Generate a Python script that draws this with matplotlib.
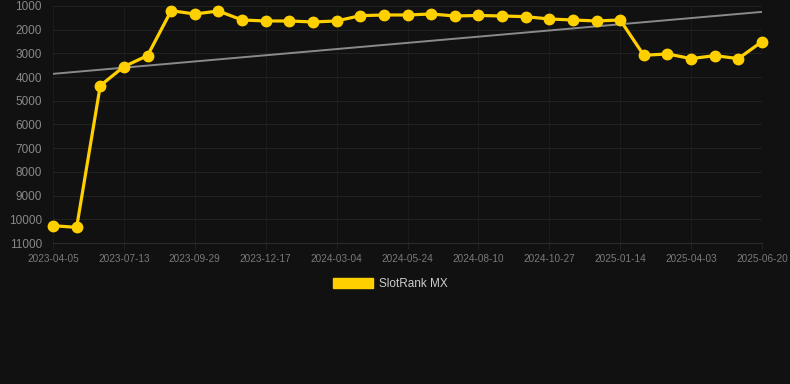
import matplotlib
matplotlib.use("Agg")
import matplotlib.pyplot as plt
from matplotlib.patches import Patch
import numpy as np

# rank values (lower rank = better, axis is inverted)
ranks = [10270, 10340, 4360, 3557, 3094, 1198, 1337, 1211, 1590, 1632,
         1632, 1674, 1632, 1408, 1379, 1379, 1337, 1421, 1400, 1421,
         1450, 1548, 1590, 1632, 1590, 3080, 3023, 3220, 3094, 3220, 2500]
tick_labels = ["2023-04-05", "2023-07-13", "2023-09-29", "2023-12-17",
               "2024-03-04", "2024-05-24", "2024-08-10", "2024-10-27",
               "2025-01-14", "2025-04-03", "2025-06-20"]
y_ticks = [1000, 2000, 3000, 4000, 5000, 6000, 7000, 8000, 9000, 10000, 11000]
series_name = "SlotRank MX"

bg = "#111111"
yellow = "#FFD000"

plt.rcParams['font.family'] = ['Liberation Sans', 'DejaVu Sans']

W, H = 790, 384
fig = plt.figure(figsize=(W / 100, H / 100), dpi=100, facecolor=bg)
ax = fig.add_axes([53 / W, 1 - 243 / H, (762 - 53) / W, (243 - 6) / H])
ax.set_facecolor(bg)

x = np.arange(len(ranks))

# linear trend line
coef = np.polyfit(x, ranks, 1)
ax.plot(x, np.polyval(coef, x), color="#8a8a8a", lw=1.4, zorder=2)

ax.plot(x, ranks, color=yellow, lw=2.3, marker="o", markersize=7.5,
        markerfacecolor=yellow, markeredgecolor=yellow, zorder=3, clip_on=False)

ax.set_xlim(0, len(ranks) - 1)
ax.set_ylim(11000, 1000)
ax.set_yticks(y_ticks)
ax.set_yticklabels([str(v) for v in y_ticks])
ax.set_xticks(x[::3])
ax.set_xticklabels(tick_labels)

ax.yaxis.grid(True, color="#212121", lw=0.8)
ax.xaxis.grid(True, color="#1b1b1b", lw=0.8)
ax.set_axisbelow(True)
for s in ["top", "right", "left"]:
    ax.spines[s].set_visible(False)
ax.spines["bottom"].set_color("#2a2a2a")

ax.tick_params(axis="y", length=0, pad=8, labelsize=8.5, labelcolor="#888888")
ax.tick_params(axis="x", length=4, color="#222222", pad=4, labelsize=7.2,
               labelcolor="#7a7a7a")

fig.legend(handles=[Patch(color=yellow, label=series_name)],
           loc="center", bbox_to_anchor=(390 / W, 1 - 284 / H),
           frameon=False, fontsize=8.5, labelcolor="#cccccc",
           handlelength=3.4, handleheight=0.85, handletextpad=0.5)

fig.savefig("out.png", dpi=100, facecolor=bg)
plt.close(fig)
